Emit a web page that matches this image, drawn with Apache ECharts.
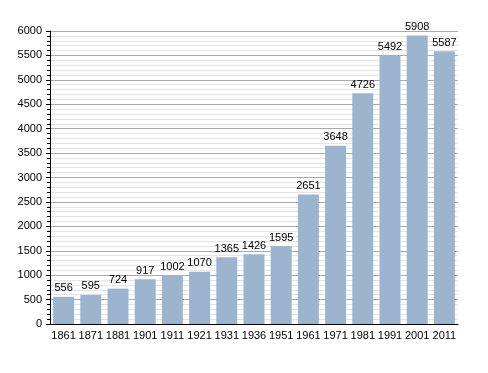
<!DOCTYPE html>
<html><head><meta charset="utf-8">
<script src="https://cdn.jsdelivr.net/npm/echarts@6/dist/echarts.min.js"></script>
<style>html,body{margin:0;padding:0;background:#fff}#c{width:488px;height:373px}</style>
</head><body><div id="c"></div>
<script>
const categories = ['1861','1871','1881','1901','1911','1921','1931','1936','1951','1961','1971','1981','1991','2001','2011'];
const population = [556,595,724,917,1002,1070,1365,1426,1595,2651,3648,4726,5492,5908,5587];
const yTicks = [0,500,1000,1500,2000,2500,3000,3500,4000,4500,5000,5500,6000];

const chart = echarts.init(document.getElementById('c'), null, {renderer:'canvas'});
chart.setOption({
  animation:false,
  backgroundColor:'#fff',
  textStyle:{fontFamily:'Liberation Sans, Arial, sans-serif'},
  grid:{left:50,right:30,top:31,bottom:49,containLabel:false},
  xAxis:{
    type:'category', data:categories,
    axisLine:{lineStyle:{color:'#000',width:1}},
    axisTick:{show:false},
    axisLabel:{color:'#000',fontSize:11,margin:6,interval:0}
  },
  yAxis:{
    type:'value', min:yTicks[0], max:yTicks[yTicks.length-1], interval:500,
    axisLine:{show:true,lineStyle:{color:'#000',width:1}},
    axisTick:{show:true,length:4,lineStyle:{color:'#000'}},
    minorTick:{show:true,splitNumber:5,length:3,lineStyle:{color:'#000'}},
    splitLine:{lineStyle:{color:'#aaa',width:1}},
    minorSplitLine:{show:true,lineStyle:{color:'#e4e4e4',width:1}},
    axisLabel:{color:'#000',fontSize:11,margin:8,formatter:function(v){return String(v);}}
  },
  series:[{
    type:'bar', data:population, barWidth:21,
    itemStyle:{color:'#9db4cf'},
    label:{show:true,position:'top',color:'#000',fontSize:11,distance:3}
  }]
});
</script></body></html>
